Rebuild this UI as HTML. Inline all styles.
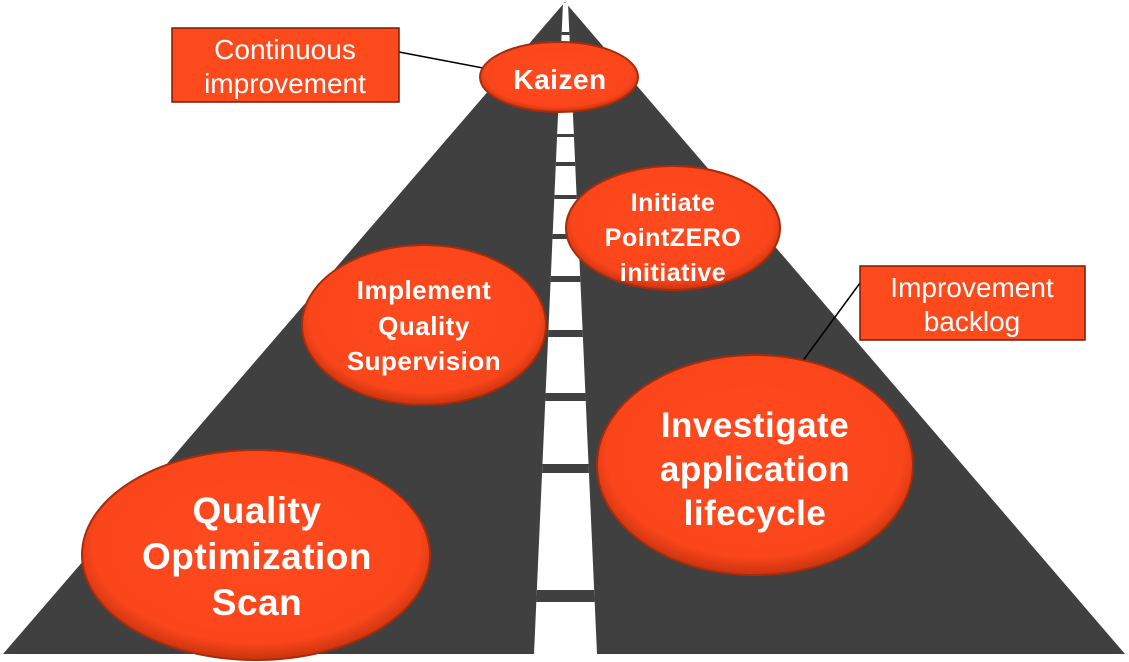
<!DOCTYPE html>
<html><head><meta charset="utf-8"><style>
html,body{margin:0;padding:0;background:#fff;}
svg{display:block;}
text{font-family:"Liberation Sans",sans-serif;fill:#fff;text-anchor:middle;}
.b{font-weight:bold;letter-spacing:0.5px;}
</style></head><body>
<svg width="1129" height="662" viewBox="0 0 1129 662" xmlns="http://www.w3.org/2000/svg">
<defs>
<radialGradient id="g" cx="50%" cy="45%" r="55%">
<stop offset="0%" stop-color="#ff4a1f"/>
<stop offset="85%" stop-color="#fb461b"/>
<stop offset="100%" stop-color="#c8330f"/>
</radialGradient>
<clipPath id="st"><polygon points="563,3 568,3 597,654 534,654"/></clipPath>
</defs>
<polygon points="565,2 3,654 1125,654" fill="#404040"/>
<polygon points="563,3 568,3 597,654 534,654" fill="#fff"/>
<g fill="#404040" clip-path="url(#st)">
<rect x="520" y="32" width="90" height="3"/>
<rect x="520" y="134" width="90" height="3"/>
<rect x="520" y="162" width="90" height="4"/>
<rect x="520" y="195" width="90" height="4"/>
<rect x="520" y="234" width="90" height="5"/>
<rect x="520" y="276" width="90" height="6"/>
<rect x="520" y="330" width="90" height="7"/>
<rect x="520" y="393" width="90" height="8"/>
<rect x="520" y="464" width="90" height="9"/>
<rect x="520" y="590" width="90" height="12"/>
</g>
<line x1="399" y1="52" x2="483" y2="68" stroke="#000" stroke-width="1.5"/>
<line x1="860" y1="283" x2="802" y2="362" stroke="#000" stroke-width="1.5"/>
<rect x="172" y="28" width="227" height="74" fill="#fc4a1c" stroke="#7a1a05" stroke-width="1.5"/>
<text x="285" y="59" font-size="28">Continuous</text>
<text x="285" y="93" font-size="28">improvement</text>
<rect x="860" y="266" width="225" height="74" fill="#fc4a1c" stroke="#7a1a05" stroke-width="1.5"/>
<text x="972" y="297" font-size="28">Improvement</text>
<text x="972" y="331" font-size="28">backlog</text>
<g stroke="#a82c0c" stroke-width="2" fill="url(#g)">
<ellipse cx="559" cy="77" rx="79" ry="35"/>
<ellipse cx="673" cy="228" rx="107" ry="62"/>
<ellipse cx="424" cy="325" rx="122" ry="80"/>
<ellipse cx="755" cy="465" rx="158" ry="110"/>
<ellipse cx="256" cy="555" rx="174" ry="105"/>
</g>
<text class="b" x="560" y="89" font-size="28">Kaizen</text>
<text class="b" x="673" y="211" font-size="25">Initiate</text>
<text class="b" x="673" y="246" font-size="25">PointZERO</text>
<text class="b" x="673" y="281" font-size="25">initiative</text>
<text class="b" x="424" y="299" font-size="26">Implement</text>
<text class="b" x="424" y="335" font-size="26">Quality</text>
<text class="b" x="424" y="370" font-size="26">Supervision</text>
<text class="b" x="755" y="437" font-size="35">Investigate</text>
<text class="b" x="755" y="481" font-size="35">application</text>
<text class="b" x="755" y="525" font-size="35">lifecycle</text>
<text class="b" x="257" y="523" font-size="37">Quality</text>
<text class="b" x="257" y="569" font-size="37">Optimization</text>
<text class="b" x="257" y="615" font-size="37">Scan</text>
</svg>
</body></html>
